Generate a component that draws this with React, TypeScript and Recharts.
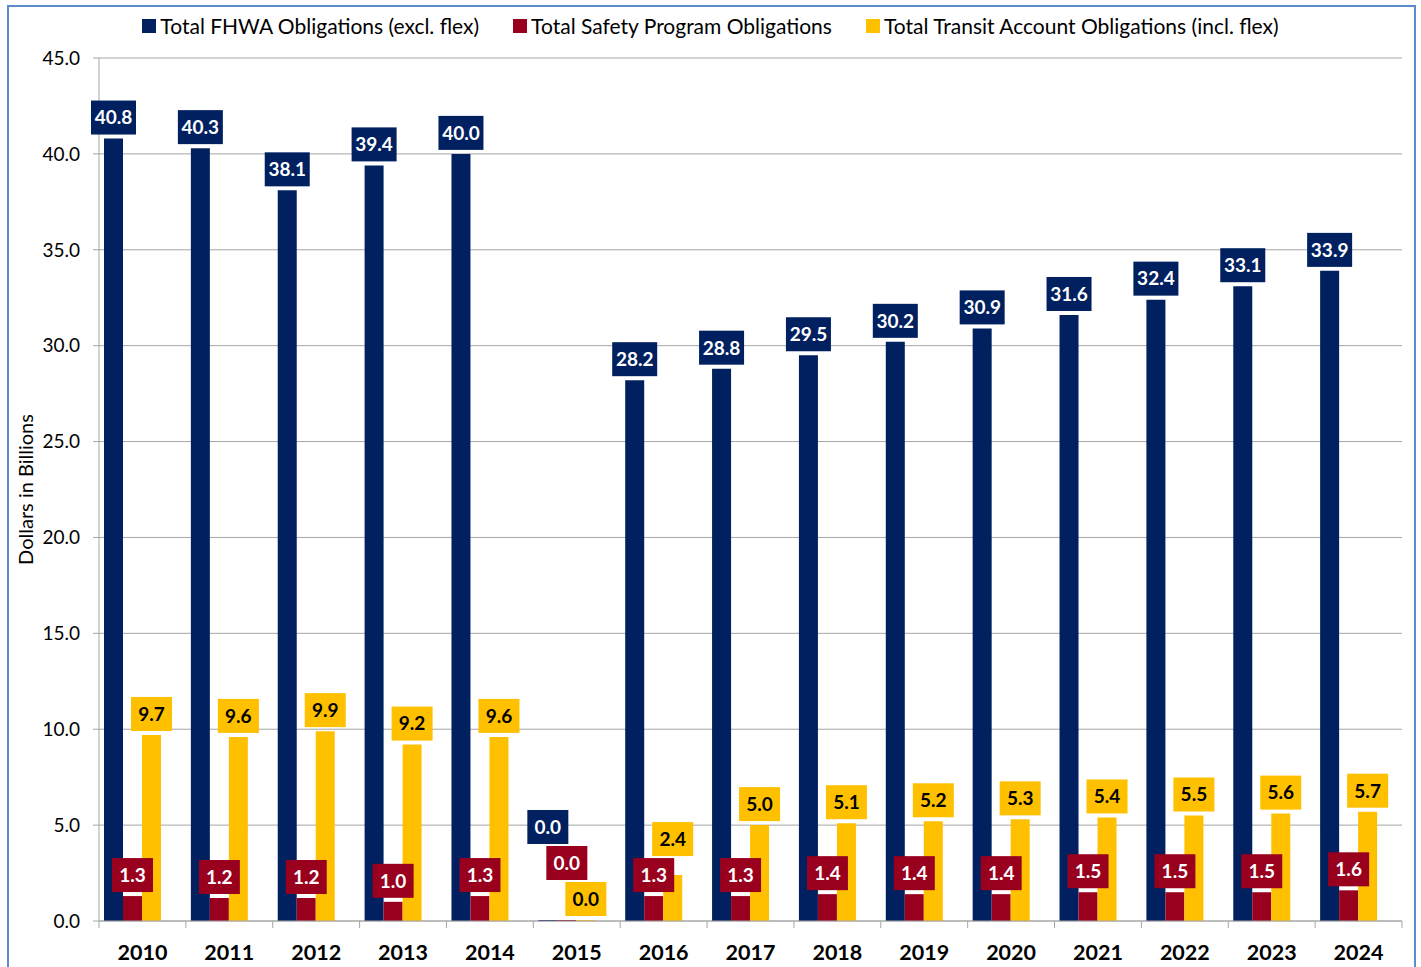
import React from "react";
import {
  BarChart,
  Bar,
  XAxis,
  YAxis,
  CartesianGrid,
  Legend,
  LabelList,
} from "recharts";

const years = ["2010", "2011", "2012", "2013", "2014", "2015", "2016", "2017", "2018", "2019", "2020", "2021", "2022", "2023", "2024"];
const fhwa = [40.8, 40.3, 38.1, 39.4, 40.0, 0.0, 28.2, 28.8, 29.5, 30.2, 30.9, 31.6, 32.4, 33.1, 33.9];
const safety = [1.3, 1.2, 1.2, 1.0, 1.3, 0.0, 1.3, 1.3, 1.4, 1.4, 1.4, 1.5, 1.5, 1.5, 1.6];
const transit = [9.7, 9.6, 9.9, 9.2, 9.6, 0.0, 2.4, 5.0, 5.1, 5.2, 5.3, 5.4, 5.5, 5.6, 5.7];
const yTicks = [0, 5, 10, 15, 20, 25, 30, 35, 40, 45];

const seriesNames = [
  "Total FHWA Obligations (excl. flex)",
  "Total Safety Program Obligations",
  "Total Transit Account Obligations (incl. flex)",
];

const NAVY = "#002060";
const RED = "#98001E";
const GOLD = "#FFC000";
const GRID = "#A6A6A6";
const FONT = "Lato, 'Open Sans', sans-serif";

const W = 1421;
const H = 967;
const PLOT_LEFT = 99;
const PLOT_RIGHT = 1402;
const BAND = (PLOT_RIGHT - PLOT_LEFT) / years.length;
const BOX_H = 34;
const BOX_GAP = 4;

const data = years.map((year, i) => ({
  year,
  fhwa: fhwa[i],
  safety: safety[i],
  transit: transit[i],
}));

// label box above the bar; zero bars get stacked by zeroLift,
// and `below` (a lower series' values) pushes the box clear of that series' label
function makeLabel(fill: string, color: string, zeroLift: number, below?: number[]) {
  return (props: any) => {
    const { x, y, width, height, value, index } = props;
    const v = Number(value);
    const text = v.toFixed(1);
    const w = text.length > 3 ? 45 : 41;
    const cx = Number(x) + Number(width) / 2;
    let bottom = Number(y) - BOX_GAP - (v === 0 ? zeroLift : 0);
    if (below && v > 0) {
      const base = Number(y) + Number(height);
      const ppu = Number(height) / v;
      const otherTop = base - below[index] * ppu - BOX_GAP - BOX_H;
      if (bottom > otherTop - 2) bottom = otherTop - 2;
    }
    return (
      <g>
        <rect x={cx - w / 2} y={bottom - BOX_H} width={w} height={BOX_H} fill={fill} />
        <text
          x={cx}
          y={bottom - BOX_H / 2}
          dy="0.36em"
          textAnchor="middle"
          fill={color}
          fontFamily={FONT}
          fontWeight={700}
          fontSize={19}
        >
          {text}
        </text>
      </g>
    );
  };
}

function YearTick(props: any) {
  const { x, y, payload, index } = props;
  return (
    <g>
      <line x1={x - BAND / 2} x2={x - BAND / 2} y1={y - 8} y2={y - 1} stroke={GRID} />
      {index === years.length - 1 && (
        <line x1={x + BAND / 2} x2={x + BAND / 2} y1={y - 8} y2={y - 1} stroke={GRID} />
      )}
      <text
        x={x}
        y={y + 31}
        textAnchor="middle"
        fill="#000"
        fontFamily={FONT}
        fontWeight={700}
        fontSize={21.5}
      >
        {payload.value}
      </text>
    </g>
  );
}

function LegendContent() {
  const colors = [NAVY, RED, GOLD];
  return (
    <div style={{ display: "flex", justifyContent: "center", gap: 34, fontFamily: FONT, fontSize: 21, color: "#000", lineHeight: "26px" }}>
      {seriesNames.map((name, i) => (
        <span key={name} style={{ display: "flex", alignItems: "center" }}>
          <span style={{ width: 14, height: 14, background: colors[i], marginRight: 4, display: "inline-block" }} />
          {name}
        </span>
      ))}
    </div>
  );
}

export default function App() {
  return (
    <div style={{ position: "absolute", left: 0, top: 0, width: W, height: H, background: "#fff", overflow: "hidden" }}>
      <div
        style={{
          position: "absolute",
          left: 7,
          top: 5,
          width: 1409,
          height: 980,
          border: "2px solid #5B8BC9",
          boxSizing: "border-box",
        }}
      />
      <BarChart
        width={W}
        height={H}
        data={data}
        margin={{ top: 32, right: W - PLOT_RIGHT, bottom: 0, left: 0 }}
        barSize={19}
        barGap={0}
      >
        <CartesianGrid vertical={false} stroke={GRID} strokeWidth={1} />
        <XAxis
          dataKey="year"
          height={46}
          axisLine={{ stroke: GRID }}
          tickLine={false}
          tick={<YearTick />}
          interval={0}
        />
        <YAxis
          width={PLOT_LEFT}
          domain={[0, 45]}
          ticks={yTicks}
          interval={0}
          axisLine={{ stroke: GRID }}
          tickLine={{ stroke: GRID }}
          tickSize={6}
          tickMargin={13}
          tickFormatter={(v: number) => v.toFixed(1)}
          tick={{ fill: "#000", fontFamily: FONT, fontSize: 19 }}
          label={{
            value: "Dollars in Billions",
            angle: -90,
            position: "insideLeft",
            dx: 21,
            style: { textAnchor: "middle", fill: "#000", fontFamily: FONT, fontSize: 20 },
          }}
        />
        <Legend verticalAlign="top" wrapperStyle={{ top: 13, left: 0, width: W }} content={<LegendContent />} />
        <Bar dataKey="fhwa" name={seriesNames[0]} fill={NAVY} minPointSize={1} isAnimationActive={false}>
          <LabelList dataKey="fhwa" content={makeLabel(NAVY, "#fff", 72)} />
        </Bar>
        <Bar dataKey="safety" name={seriesNames[1]} fill={RED} minPointSize={1} isAnimationActive={false}>
          <LabelList dataKey="safety" content={makeLabel(RED, "#fff", 36)} />
        </Bar>
        <Bar dataKey="transit" name={seriesNames[2]} fill={GOLD} minPointSize={1} isAnimationActive={false}>
          <LabelList dataKey="transit" content={makeLabel(GOLD, "#000", 0, safety)} />
        </Bar>
        <Bar dataKey="spare" legendType="none" fill="none" isAnimationActive={false} />
      </BarChart>
    </div>
  );
}
